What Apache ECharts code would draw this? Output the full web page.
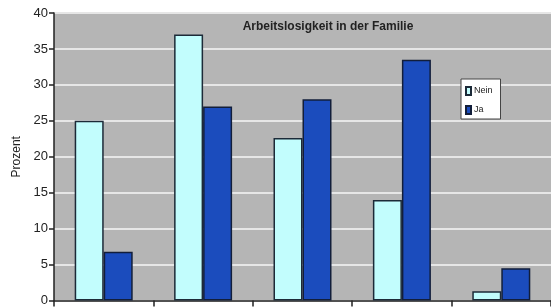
<!DOCTYPE html>
<html>
<head>
<meta charset="utf-8">
<script src="https://cdn.jsdelivr.net/npm/echarts@6/dist/echarts.min.js"></script>
<style>
  html, body { margin: 0; padding: 0; background: #fff; }
  #main { width: 551px; height: 307px; }
</style>
</head>
<body>
<div id="main"></div>
<script>
// Werte (Prozent)
var kategorien = ['Gruppe 1', 'Gruppe 2', 'Gruppe 3', 'Gruppe 4', 'Gruppe 5'];
var nein = [25, 37, 22.6, 14, 1.3];
var ja = [6.8, 27, 28, 33.5, 4.5];
var yTicks = [0, 5, 10, 15, 20, 25, 30, 35, 40];

var chartDom = document.getElementById('main');
var myChart = echarts.init(chartDom);

var option = {
  animation: false,
  title: {
    text: 'Arbeitslosigkeit in der Familie',
    left: 323,
    top: 16,
    textAlign: 'center',
    textStyle: {
      fontFamily: 'Liberation Sans',
      fontSize: 12,
      fontWeight: 'bold',
      color: '#222'
    }
  },
  legend: {
    orient: 'vertical',
    left: 461,
    top: 79,
    backgroundColor: '#fff',
    borderColor: '#444',
    borderWidth: 1,
    borderRadius: 0,
    padding: [7, 8, 4, 4],
    itemWidth: 5,
    itemHeight: 8,
    itemGap: 9,
    icon: 'rect',
    textStyle: {
      fontFamily: 'Liberation Sans',
      fontSize: 9,
      lineHeight: 10,
      color: '#222',
      padding: [0, 0, 0, -2]
    },
    data: ['Nein', 'Ja']
  },
  grid: {
    left: 54,
    top: 13,
    width: 504,
    height: 289,
    show: true,
    backgroundColor: '#b5b5b5',
    borderWidth: 0
  },
  xAxis: {
    type: 'category',
    data: kategorien,
    axisLine: { lineStyle: { color: '#222', width: 1.5 } },
    axisTick: { show: true, length: 6, interval: 0, lineStyle: { color: '#222', width: 1.5 } },
    axisLabel: { show: false }
  },
  yAxis: {
    type: 'value',
    name: 'Prozent',
    nameLocation: 'middle',
    nameGap: 27,
    nameTextStyle: {
      fontFamily: 'Liberation Sans',
      fontSize: 12,
      color: '#222'
    },
    min: yTicks[0],
    max: yTicks[yTicks.length - 1],
    interval: 5,
    axisLine: { show: true, lineStyle: { color: '#222', width: 1.5 } },
    axisTick: { show: true, length: 5, lineStyle: { color: '#222', width: 1.5 } },
    axisLabel: {
      fontFamily: 'Liberation Sans',
      fontSize: 13,
      color: '#222',
      margin: 6
    },
    splitLine: { lineStyle: { color: '#e6e6e6', width: 2 } }
  },
  series: [
    {
      name: 'Nein',
      type: 'bar',
      data: nein,
      barWidth: 29,
      barGap: '0%',
      itemStyle: { color: '#c2fdfd', borderColor: '#1c2a38', borderWidth: 1.5 }
    },
    {
      name: 'Ja',
      type: 'bar',
      data: ja,
      barWidth: 29,
      barGap: '0%',
      itemStyle: { color: '#1b4cbd', borderColor: '#121e3a', borderWidth: 1.5 }
    }
  ]
};

myChart.setOption(option);
</script>
</body>
</html>
